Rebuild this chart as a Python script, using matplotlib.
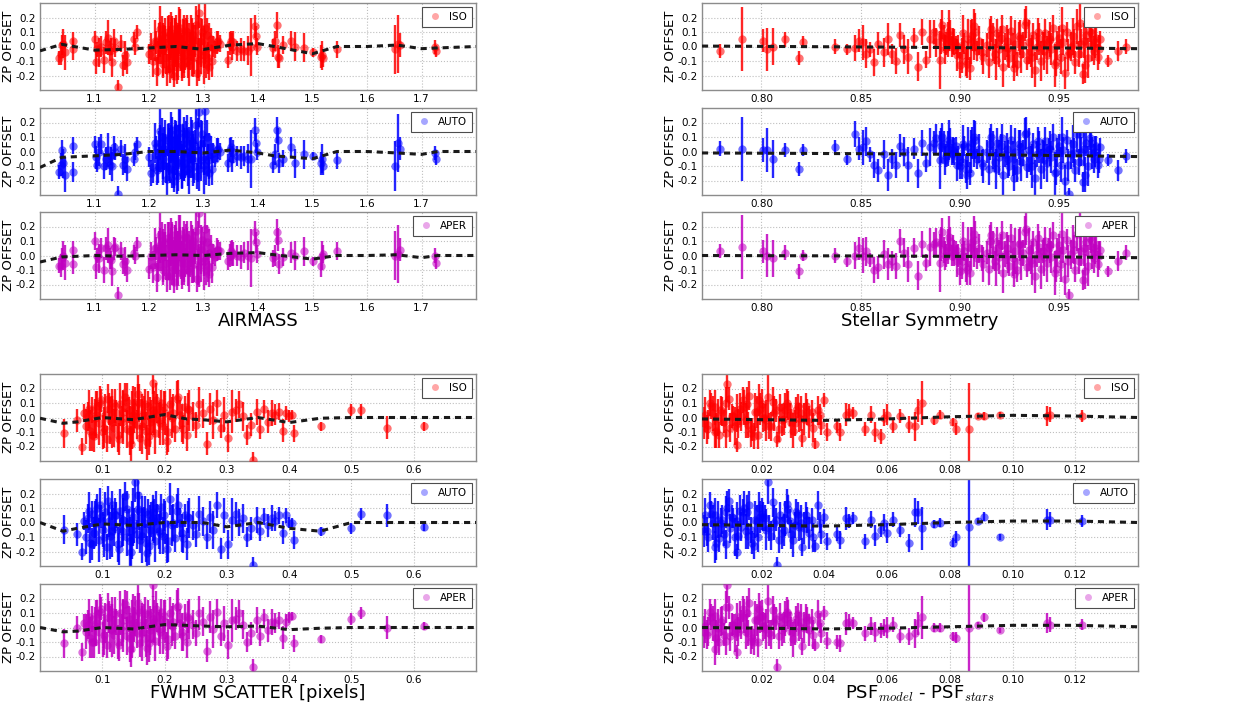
import matplotlib
matplotlib.use("Agg")
import matplotlib.pyplot as plt
from matplotlib.lines import Line2D
from matplotlib.ticker import FormatStrFormatter

plt.rcParams['font.family'] = ['DejaVu Sans']
plt.rcParams['mathtext.fontset'] = 'cm'

# ---------------- data: AIRMASS ----------------
AM_X = [1.035, 1.038, 1.040, 1.042, 1.045, 1.060, 1.061, 1.100, 1.103, 1.105,
        1.108, 1.112, 1.118, 1.122, 1.125, 1.128, 1.130, 1.132, 1.135, 1.138,
        1.143, 1.148, 1.152, 1.156, 1.160, 1.172, 1.175, 1.178, 1.200, 1.203,
        1.207, 1.212, 1.215, 1.218, 1.220, 1.222, 1.224, 1.226, 1.228, 1.230,
        1.232, 1.234, 1.236, 1.238, 1.240, 1.242, 1.244, 1.246, 1.248, 1.250,
        1.252, 1.254, 1.256, 1.258, 1.260, 1.262, 1.264, 1.266, 1.268, 1.270,
        1.272, 1.274, 1.276, 1.278, 1.280, 1.282, 1.285, 1.288, 1.290, 1.292,
        1.295, 1.297, 1.300, 1.302, 1.305, 1.308, 1.310, 1.313, 1.318, 1.322,
        1.326, 1.330, 1.345, 1.348, 1.350, 1.352, 1.355, 1.362, 1.368, 1.375,
        1.382, 1.388, 1.395, 1.397, 1.399, 1.428, 1.432, 1.435, 1.437, 1.439,
        1.446, 1.460, 1.468, 1.485, 1.500, 1.515, 1.517, 1.520, 1.545, 1.652,
        1.657, 1.661, 1.725, 1.727,
        1.211, 1.217, 1.221, 1.225, 1.229, 1.233, 1.237, 1.241, 1.245, 1.249,
        1.253, 1.257, 1.261, 1.265, 1.269, 1.273, 1.277, 1.281, 1.286, 1.291,
        1.296, 1.301, 1.306, 1.311, 1.316, 1.324, 1.243, 1.247, 1.251, 1.255]
AM_ISO = [-0.08, -0.05, 0.01, 0.02, -0.04, 0.04, -0.02, 0.05, -0.11, -0.02,
          -0.04, 0.00, -0.09, 0.03, 0.06, -0.03, 0.00, -0.11, 0.04, -0.01,
          -0.28, 0.02, -0.13, -0.06, -0.11, 0.05, 0.00, 0.10, -0.05, 0.00,
          -0.10, 0.03, -0.17, 0.02, 0.05, -0.03, 0.08, -0.12, 0.00, 0.06,
          -0.07, 0.10, -0.02, -0.15, 0.04, 0.12, -0.05, -0.20, 0.03, 0.07,
          -0.09, 0.01, 0.09, -0.04, -0.13, 0.05, 0.00, -0.06, 0.11, 0.02,
          -0.10, 0.06, -0.03, 0.00, 0.08, -0.07, 0.04, -0.18, 0.00, 0.23,
          -0.05, 0.10, -0.03, 0.13, -0.12, -0.08, -0.14, 0.05, 0.00, -0.02,
          0.04, 0.02, -0.09, 0.02, 0.04, 0.00, 0.03, -0.03, -0.02, -0.03,
          -0.03, 0.00, 0.14, 0.07, 0.00, -0.01, 0.04, 0.15, -0.07, -0.08,
          0.01, 0.04, 0.00, -0.01, -0.04, -0.07, -0.06, -0.08, -0.02, -0.02,
          0.02, 0.01, -0.005, -0.03,
          0.04, -0.08, 0.12, -0.02, 0.07, -0.16, 0.02, 0.09, -0.11, 0.05,
          -0.04, 0.13, -0.07, 0.00, 0.10, -0.13, 0.06, -0.03, 0.15, -0.09,
          0.03, -0.06, 0.08, 0.00, -0.10, 0.03, -0.01, 0.06, -0.14, 0.11]
AM_AUTO = [-0.14, -0.09, 0.01, -0.08, -0.16, 0.04, -0.14, 0.05, -0.04, -0.09,
           0.00, 0.05, -0.10, -0.05, 0.01, -0.09, -0.03, -0.10, 0.03, 0.00,
           -0.29, 0.02, -0.09, -0.05, -0.12, -0.05, 0.00, 0.05, -0.04, -0.15,
           -0.11, 0.03, -0.13, 0.00, 0.06, -0.05, 0.10, -0.09, 0.02, 0.04,
           -0.10, 0.08, 0.00, -0.12, 0.05, 0.15, -0.04, -0.20, 0.01, 0.09,
           -0.07, 0.03, 0.10, -0.06, -0.15, 0.05, -0.02, -0.08, 0.12, 0.00,
           -0.12, 0.07, -0.05, 0.02, 0.06, -0.10, 0.04, -0.17, 0.01, 0.27,
           -0.06, 0.12, -0.04, 0.28, -0.13, -0.06, -0.15, 0.03, -0.01, -0.05,
           0.02, 0.00, -0.08, 0.01, 0.03, -0.05, 0.00, -0.03, -0.04, -0.03,
           -0.05, -0.05, 0.15, 0.06, 0.00, -0.09, -0.02, 0.15, 0.08, -0.08,
           -0.05, 0.03, -0.08, -0.02, -0.03, -0.08, -0.05, -0.10, -0.06, -0.10,
           0.06, 0.02, -0.01, -0.05,
           0.06, -0.10, 0.14, -0.05, 0.09, -0.19, 0.00, 0.12, -0.13, 0.04,
           -0.08, 0.16, -0.10, 0.02, 0.13, -0.15, 0.08, -0.06, 0.18, -0.12,
           0.05, -0.09, 0.10, -0.03, -0.12, 0.01, -0.04, 0.08, -0.17, 0.13]
AM_APER = [-0.07, -0.07, -0.02, 0.00, -0.05, 0.04, -0.06, 0.10, -0.08, 0.00,
           -0.02, 0.05, -0.10, 0.05, 0.07, -0.02, -0.03, -0.11, 0.05, 0.06,
           -0.27, 0.03, -0.06, -0.04, -0.10, 0.02, 0.00, 0.08, -0.09, 0.00,
           -0.08, 0.05, -0.15, 0.03, 0.07, -0.02, 0.10, -0.10, 0.01, 0.08,
           -0.05, 0.12, -0.01, -0.14, 0.06, 0.14, -0.03, -0.18, 0.04, 0.09,
           -0.08, 0.02, 0.11, -0.03, -0.12, 0.06, 0.00, -0.05, 0.13, 0.03,
           -0.09, 0.07, -0.02, 0.01, 0.10, -0.06, 0.05, -0.16, 0.02, 0.29,
           -0.04, 0.11, -0.02, 0.18, -0.10, -0.07, -0.13, 0.06, 0.01, -0.01,
           0.04, 0.03, -0.04, 0.00, 0.03, 0.02, 0.01, 0.00, -0.01, 0.02,
           0.00, -0.02, 0.16, 0.09, 0.01, -0.02, 0.00, 0.16, 0.11, -0.06,
           -0.01, 0.02, 0.00, 0.03, -0.04, -0.07, 0.00, 0.01, 0.03, 0.00,
           0.01, 0.04, 0.00, -0.05,
           0.05, -0.06, 0.14, 0.00, 0.09, -0.14, 0.03, 0.11, -0.09, 0.07,
           -0.02, 0.15, -0.05, 0.02, 0.12, -0.11, 0.08, -0.01, 0.17, -0.07,
           0.04, -0.04, 0.09, 0.02, -0.08, 0.04, 0.01, 0.07, -0.12, 0.12]
AM_ERR = [0.05, 0.08, 0.07, 0.10, 0.12, 0.06, 0.07, 0.06, 0.08, 0.05,
          0.10, 0.07, 0.09, 0.08, 0.12, 0.07, 0.06, 0.10, 0.08, 0.06,
          0.05, 0.06, 0.07, 0.10, 0.08, 0.05, 0.06, 0.05, 0.07, 0.09,
          0.11, 0.08, 0.10, 0.14, 0.12, 0.09, 0.13, 0.10, 0.15, 0.08,
          0.12, 0.11, 0.16, 0.10, 0.13, 0.09, 0.14, 0.08, 0.17, 0.10,
          0.12, 0.15, 0.09, 0.13, 0.11, 0.14, 0.18, 0.10, 0.09, 0.16,
          0.12, 0.10, 0.13, 0.20, 0.08, 0.12, 0.11, 0.09, 0.22, 0.10,
          0.14, 0.09, 0.12, 0.25, 0.10, 0.11, 0.09, 0.08, 0.07, 0.06,
          0.07, 0.06, 0.06, 0.08, 0.07, 0.09, 0.08, 0.07, 0.08, 0.07,
          0.10, 0.20, 0.08, 0.07, 0.06, 0.06, 0.07, 0.09, 0.08, 0.07,
          0.06, 0.07, 0.10, 0.10, 0.03, 0.08, 0.10, 0.06, 0.06, 0.17,
          0.20, 0.08, 0.05, 0.04,
          0.14, 0.12, 0.16, 0.18, 0.13, 0.11, 0.20, 0.15, 0.12, 0.17,
          0.19, 0.13, 0.15, 0.22, 0.12, 0.14, 0.16, 0.18, 0.13, 0.15,
          0.17, 0.20, 0.12, 0.16, 0.11, 0.08, 0.21, 0.14, 0.12, 0.16]
AM_TX = [1.00, 1.04, 1.10, 1.15, 1.20, 1.25, 1.30, 1.35, 1.40, 1.43, 1.50,
         1.545, 1.60, 1.655, 1.70, 1.73, 1.80]
AM_T_ISO = [-0.03, 0.015, -0.025, -0.02, -0.01, 0.0, -0.02, 0.01, 0.02, 0.0,
            -0.05, 0.0, 0.0, 0.01, -0.015, -0.01, 0.0]
AM_T_AUTO = [-0.11, -0.04, -0.03, -0.02, 0.0, 0.0, -0.01, 0.01, -0.01, -0.03,
             -0.05, 0.0, 0.0, -0.01, -0.02, 0.0, 0.0]
AM_T_APER = [-0.045, -0.01, 0.0, -0.005, 0.0, 0.005, 0.0, 0.015, 0.02, 0.005,
             -0.025, 0.0, 0.0, 0.005, -0.015, 0.0, 0.0]

# ---------------- data: STELLAR SYMMETRY ----------------
SY_X = [0.779, 0.790, 0.801, 0.803, 0.806, 0.812, 0.819, 0.821, 0.837, 0.843,
        0.847, 0.849, 0.851, 0.853, 0.855, 0.857, 0.859, 0.862, 0.864, 0.866,
        0.868, 0.870, 0.872, 0.874, 0.877, 0.879, 0.881, 0.883, 0.885, 0.887,
        0.888, 0.890, 0.891, 0.892, 0.893, 0.894, 0.895, 0.896, 0.897, 0.898,
        0.899, 0.900, 0.901, 0.902, 0.903, 0.904, 0.905, 0.906, 0.907, 0.908,
        0.909, 0.910, 0.912, 0.914, 0.915, 0.916, 0.917, 0.918, 0.919, 0.920,
        0.921, 0.922, 0.923, 0.924, 0.925, 0.926, 0.927, 0.928, 0.929, 0.930,
        0.931, 0.932, 0.933, 0.934, 0.935, 0.936, 0.937, 0.938, 0.939, 0.940,
        0.941, 0.942, 0.943, 0.944, 0.945, 0.946, 0.947, 0.948, 0.949, 0.950,
        0.951, 0.952, 0.953, 0.954, 0.955, 0.956, 0.957, 0.958, 0.959, 0.960,
        0.961, 0.962, 0.963, 0.964, 0.965, 0.966, 0.967, 0.968, 0.969, 0.970,
        0.971, 0.975, 0.980, 0.984,
        0.8905, 0.8925, 0.8945, 0.8965, 0.8985, 0.9015, 0.9035, 0.9055, 0.9075, 0.9115,
        0.9155, 0.9185, 0.9215, 0.9245, 0.9275, 0.9305, 0.9335, 0.9365, 0.9395, 0.9425,
        0.9455, 0.9485, 0.9515, 0.9545, 0.9575, 0.9605, 0.9635, 0.9665, 0.9685, 0.9705]
SY_ISO = [-0.03, 0.05, 0.04, -0.02, 0.00, 0.05, -0.08, 0.03, 0.00, -0.02,
          -0.01, 0.04, 0.03, -0.05, -0.02, -0.11, 0.02, -0.04, 0.05, -0.05,
          -0.10, 0.08, -0.02, -0.07, 0.06, -0.14, 0.10, -0.09, 0.05, 0.10,
          0.03, -0.09, 0.15, 0.06, 0.02, 0.05, 0.08, 0.00, 0.03, 0.01,
          0.00, -0.13, -0.06, 0.02, -0.10, 0.05, -0.15, 0.08, 0.00, 0.10,
          -0.03, 0.04, -0.07, 0.01, -0.11, 0.12, 0.03, -0.05, 0.09, -0.02,
          0.06, -0.14, 0.00, 0.04, -0.08, 0.11, -0.03, 0.02, -0.12, 0.07,
          -0.05, 0.01, 0.15, -0.09, 0.03, -0.04, 0.08, -0.16, 0.00, 0.05,
          -0.10, 0.02, 0.09, -0.06, 0.04, -0.02, 0.13, -0.13, 0.01, 0.06,
          -0.07, 0.03, -0.18, 0.10, -0.04, 0.00, 0.07, -0.11, 0.14, -0.05,
          0.02, -0.19, 0.04, 0.08, -0.08, 0.11, 0.01, -0.03, 0.06, -0.07,
          0.05, -0.10, -0.03, 0.00,
          0.07, -0.02, 0.11, 0.04, -0.06, 0.09, -0.12, 0.03, 0.14, -0.04,
          0.08, -0.09, 0.12, -0.01, -0.15, 0.06, 0.17, -0.07, 0.10, -0.03,
          0.05, -0.11, 0.13, -0.06, 0.02, 0.16, -0.13, 0.09, 0.03, -0.02]
SY_AUTO = [0.02, 0.02, 0.01, 0.01, -0.05, 0.01, -0.12, 0.01, 0.03, -0.05,
           0.12, 0.02, 0.03, 0.07, -0.02, -0.09, -0.13, -0.02, -0.16, -0.05,
           -0.09, 0.04, 0.00, -0.09, 0.02, -0.15, 0.06, -0.08, 0.03, 0.06,
           0.09, -0.06, 0.10, 0.05, -0.03, 0.02, 0.06, -0.02, 0.00, 0.04,
           -0.04, -0.10, -0.07, 0.04, -0.12, 0.03, -0.15, 0.06, -0.02, 0.08,
           -0.05, 0.02, -0.10, 0.00, -0.12, 0.10, 0.01, -0.07, 0.06, -0.04,
           0.04, -0.16, -0.02, 0.02, -0.10, 0.08, -0.05, 0.00, -0.13, 0.05,
           -0.07, -0.01, 0.12, -0.11, 0.01, -0.06, 0.05, -0.18, -0.02, 0.03,
           -0.12, 0.00, 0.07, -0.08, 0.02, -0.04, 0.10, -0.15, -0.01, 0.04,
           -0.09, 0.01, -0.20, 0.08, -0.29, -0.02, 0.05, -0.13, 0.12, -0.07,
           0.00, -0.21, 0.02, 0.06, -0.10, 0.09, -0.01, -0.05, 0.04, -0.09,
           0.03, -0.06, -0.13, -0.03,
           0.04, -0.06, 0.08, 0.01, -0.09, 0.05, -0.16, 0.00, 0.10, -0.08,
           0.05, -0.12, 0.09, -0.05, -0.18, 0.03, 0.13, -0.10, 0.07, -0.06,
           0.02, -0.14, 0.10, -0.09, -0.01, 0.12, -0.16, 0.06, 0.00, -0.05]
SY_APER = [0.03, 0.06, 0.03, 0.00, -0.02, 0.02, -0.11, 0.00, 0.00, -0.04,
           0.00, 0.05, 0.00, 0.03, -0.03, -0.10, -0.08, 0.01, -0.06, -0.04,
           -0.07, 0.10, 0.02, -0.06, 0.05, -0.14, 0.08, -0.05, 0.06, 0.08,
           0.09, -0.05, 0.16, 0.04, 0.00, 0.06, 0.10, 0.00, 0.02, 0.04,
           0.00, -0.11, -0.04, 0.03, -0.08, 0.06, -0.12, 0.09, 0.01, 0.11,
           -0.02, 0.05, -0.06, 0.02, -0.09, 0.14, 0.04, -0.04, 0.10, -0.01,
           0.07, -0.12, 0.01, 0.05, -0.07, 0.12, -0.02, 0.03, -0.10, 0.08,
           -0.04, 0.02, 0.16, -0.08, 0.04, -0.03, 0.09, -0.14, 0.01, 0.06,
           -0.09, 0.03, 0.10, -0.05, 0.05, -0.01, 0.14, -0.12, 0.02, 0.07,
           -0.06, 0.04, -0.16, 0.11, -0.27, 0.01, 0.08, -0.10, 0.15, -0.04,
           0.03, -0.17, 0.05, 0.09, -0.07, 0.12, 0.02, -0.02, 0.07, -0.06,
           0.04, -0.11, -0.04, 0.02,
           0.08, 0.00, 0.13, 0.05, -0.04, 0.10, -0.10, 0.05, 0.15, -0.02,
           0.10, -0.07, 0.14, 0.01, -0.13, 0.08, 0.18, -0.05, 0.12, -0.01,
           0.07, -0.09, 0.15, -0.04, 0.04, 0.17, -0.11, 0.11, 0.05, 0.00]
SY_ERR = [0.05, 0.22, 0.08, 0.15, 0.13, 0.05, 0.05, 0.04, 0.05, 0.04,
          0.09, 0.08, 0.12, 0.10, 0.05, 0.09, 0.08, 0.10, 0.11, 0.07,
          0.09, 0.08, 0.10, 0.12, 0.07, 0.10, 0.09, 0.06, 0.13, 0.08,
          0.10, 0.20, 0.10, 0.09, 0.08, 0.12, 0.10, 0.07, 0.09, 0.06,
          0.08, 0.09, 0.12, 0.07, 0.10, 0.14, 0.08, 0.11, 0.09, 0.13,
          0.07, 0.10, 0.12, 0.08, 0.11, 0.09, 0.13, 0.07, 0.10, 0.12,
          0.08, 0.14, 0.09, 0.11, 0.07, 0.10, 0.12, 0.16, 0.08, 0.10,
          0.13, 0.09, 0.11, 0.07, 0.15, 0.10, 0.08, 0.12, 0.09, 0.11,
          0.14, 0.08, 0.10, 0.13, 0.07, 0.11, 0.09, 0.15, 0.10, 0.08,
          0.12, 0.09, 0.11, 0.07, 0.04, 0.10, 0.13, 0.08, 0.12, 0.09,
          0.10, 0.07, 0.12, 0.09, 0.14, 0.08, 0.11, 0.10, 0.07, 0.09,
          0.06, 0.04, 0.07, 0.05,
          0.12, 0.10, 0.14, 0.09, 0.11, 0.13, 0.10, 0.15, 0.12, 0.09,
          0.11, 0.14, 0.10, 0.13, 0.09, 0.12, 0.11, 0.15, 0.10, 0.13,
          0.12, 0.09, 0.14, 0.11, 0.10, 0.13, 0.12, 0.09, 0.11, 0.10]
SY_TX = [0.77, 0.85, 0.90, 0.95, 0.99]
SY_T_ISO = [0.003, -0.003, -0.008, -0.01, -0.015]
SY_T_AUTO = [-0.01, -0.015, -0.02, -0.028, -0.035]
SY_T_APER = [0.0, -0.003, -0.006, -0.01, -0.015]

# ---------------- data: FWHM SCATTER ----------------
FW_X = [0.038, 0.060, 0.068, 0.070, 0.074, 0.077, 0.080, 0.083, 0.086, 0.089,
        0.092, 0.095, 0.098, 0.101, 0.104, 0.107, 0.110, 0.113, 0.116, 0.119,
        0.122, 0.125, 0.128, 0.131, 0.134, 0.137, 0.140, 0.143, 0.146, 0.149,
        0.152, 0.155, 0.158, 0.161, 0.164, 0.167, 0.170, 0.173, 0.176, 0.179,
        0.182, 0.185, 0.188, 0.191, 0.194, 0.197, 0.200, 0.204, 0.208, 0.212,
        0.216, 0.220, 0.224, 0.228, 0.232, 0.236, 0.240, 0.245, 0.250, 0.256,
        0.262, 0.268, 0.273, 0.278, 0.284, 0.290, 0.296, 0.302, 0.308, 0.314,
        0.320, 0.326, 0.332, 0.338, 0.342, 0.348, 0.354, 0.360, 0.366, 0.372,
        0.378, 0.384, 0.390, 0.395, 0.400, 0.404, 0.408, 0.451, 0.499, 0.515,
        0.557, 0.617,
        0.078, 0.084, 0.090, 0.097, 0.103, 0.109, 0.115, 0.121, 0.127, 0.133,
        0.139, 0.145, 0.151, 0.157, 0.163, 0.169, 0.175, 0.181, 0.187, 0.193,
        0.199, 0.206, 0.214, 0.222, 0.230, 0.238, 0.147, 0.159, 0.171, 0.183]
FW_ISO = [-0.11, -0.02, -0.20, 0.03, -0.06, 0.01, -0.09, 0.05, -0.13, 0.00,
          0.08, -0.04, 0.12, -0.10, 0.02, -0.15, 0.06, -0.02, 0.10, -0.07,
          0.03, -0.12, 0.09, -0.03, 0.00, 0.14, -0.08, 0.05, -0.18, 0.02,
          0.07, -0.05, 0.11, -0.14, 0.01, 0.04, -0.09, 0.08, -0.03, 0.00,
          0.24, -0.11, 0.06, -0.02, 0.10, -0.06, 0.03, -0.16, 0.09, 0.00,
          -0.08, 0.13, 0.02, -0.04, 0.07, -0.12, 0.05, 0.01, -0.05, 0.09,
          0.03, -0.18, 0.06, -0.02, 0.10, -0.07, 0.02, -0.14, 0.04, 0.05,
          0.09, 0.01, -0.12, -0.05, -0.29, 0.04, -0.08, 0.06, -0.03, 0.03,
          0.02, 0.04, -0.09, 0.03, 0.01, 0.02, -0.11, -0.06, 0.05, 0.05,
          -0.07, -0.06,
          0.06, -0.12, 0.02, 0.10, -0.07, 0.13, -0.03, 0.08, -0.15, 0.04,
          0.11, -0.09, 0.01, 0.16, -0.06, 0.09, -0.13, 0.05, 0.12, -0.04,
          0.07, -0.10, 0.03, 0.14, -0.08, 0.06, -0.02, 0.10, -0.17, 0.03]
FW_AUTO = [-0.05, -0.08, -0.20, 0.01, -0.10, 0.03, -0.14, 0.06, -0.07, 0.02,
           0.10, -0.12, 0.04, -0.05, 0.07, -0.17, 0.01, -0.09, 0.12, -0.03,
           0.05, -0.15, 0.08, -0.06, 0.02, 0.18, -0.10, 0.00, -0.20, 0.04,
           0.28, -0.08, 0.09, -0.12, 0.03, 0.00, -0.14, 0.06, -0.05, 0.02,
           0.07, -0.13, 0.03, -0.06, 0.11, -0.09, 0.00, -0.18, 0.16, -0.02,
           -0.11, 0.08, 0.00, -0.07, 0.05, -0.15, 0.03, -0.02, -0.08, 0.06,
           0.01, -0.10, 0.04, -0.05, 0.12, -0.18, 0.05, -0.15, 0.02, 0.06,
           0.00, 0.03, -0.10, -0.04, -0.29, 0.02, -0.06, 0.04, -0.02, 0.03,
           0.01, 0.05, -0.07, 0.05, 0.00, 0.00, -0.12, -0.06, -0.04, 0.06,
           0.05, -0.03,
           0.08, -0.15, 0.00, 0.12, -0.10, 0.15, -0.06, 0.05, -0.18, 0.02,
           0.09, -0.13, -0.02, 0.19, -0.09, 0.07, -0.16, 0.03, 0.10, -0.07,
           0.05, -0.13, 0.00, 0.12, -0.11, 0.04, -0.05, 0.08, -0.21, 0.01]
FW_APER = [-0.11, 0.00, -0.17, 0.03, -0.03, 0.02, -0.07, 0.06, -0.10, 0.01,
           0.09, -0.03, 0.13, -0.08, 0.03, -0.12, 0.07, -0.01, 0.11, -0.05,
           0.04, -0.10, 0.10, -0.02, 0.01, 0.16, -0.06, 0.06, -0.15, 0.03,
           0.08, -0.04, 0.12, -0.11, 0.02, 0.05, -0.07, 0.09, -0.02, 0.01,
           0.29, -0.09, 0.07, -0.01, 0.11, -0.05, 0.04, -0.13, 0.10, 0.01,
           -0.06, 0.14, 0.03, -0.03, 0.08, -0.10, 0.06, 0.02, -0.04, 0.10,
           0.04, -0.16, 0.07, -0.01, 0.11, -0.06, 0.03, -0.12, 0.05, 0.06,
           0.10, 0.02, -0.10, -0.04, -0.27, 0.05, -0.06, 0.07, -0.02, 0.04,
           0.03, 0.05, -0.07, 0.04, 0.07, 0.08, -0.11, -0.08, 0.06, 0.10,
           0.00, 0.01,
           0.07, -0.10, 0.03, 0.11, -0.05, 0.14, -0.02, 0.09, -0.12, 0.05,
           0.12, -0.07, 0.02, 0.17, -0.04, 0.10, -0.11, 0.06, 0.13, -0.03,
           0.08, -0.08, 0.04, 0.15, -0.06, 0.07, -0.01, 0.11, -0.14, 0.04]
FW_ERR = [0.10, 0.08, 0.06, 0.06, 0.12, 0.10, 0.14, 0.09, 0.11, 0.13,
          0.10, 0.15, 0.08, 0.12, 0.14, 0.09, 0.11, 0.16, 0.10, 0.13,
          0.09, 0.12, 0.15, 0.11, 0.18, 0.10, 0.13, 0.09, 0.12, 0.20,
          0.14, 0.10, 0.12, 0.09, 0.15, 0.11, 0.13, 0.10, 0.17, 0.12,
          0.08, 0.14, 0.10, 0.12, 0.09, 0.13, 0.15, 0.10, 0.11, 0.14,
          0.09, 0.12, 0.10, 0.13, 0.08, 0.11, 0.14, 0.10, 0.09, 0.12,
          0.10, 0.08, 0.11, 0.13, 0.09, 0.07, 0.12, 0.10, 0.15, 0.08,
          0.09, 0.10, 0.07, 0.08, 0.05, 0.09, 0.07, 0.06, 0.08, 0.09,
          0.07, 0.06, 0.08, 0.05, 0.04, 0.03, 0.06, 0.03, 0.04, 0.04,
          0.08, 0.03,
          0.13, 0.11, 0.16, 0.12, 0.14, 0.10, 0.18, 0.12, 0.11, 0.15,
          0.13, 0.17, 0.12, 0.14, 0.19, 0.11, 0.13, 0.16, 0.12, 0.15,
          0.11, 0.14, 0.13, 0.12, 0.10, 0.11, 0.20, 0.13, 0.12, 0.15]
FW_TX = [0.0, 0.037, 0.06, 0.10, 0.15, 0.20, 0.235, 0.26, 0.30, 0.35, 0.40,
         0.45, 0.50, 0.70]
FW_T_ISO = [-0.005, -0.04, -0.03, 0.0, -0.015, 0.02, -0.01, -0.015, -0.03,
            0.0, -0.035, -0.005, 0.0, 0.0]
FW_T_AUTO = [0.0, -0.06, -0.04, -0.01, -0.02, 0.0, 0.0, 0.0, -0.03, 0.0,
             -0.04, -0.06, 0.0, 0.0]
FW_T_APER = [0.0, -0.03, -0.025, 0.0, -0.01, 0.02, 0.015, 0.01, 0.005, 0.01,
             -0.015, -0.005, 0.0, 0.0]

# ---------------- data: PSF model - PSF stars ----------------
PS_X = [0.002, 0.003, 0.004, 0.005, 0.006, 0.007, 0.008, 0.009, 0.010, 0.011,
        0.012, 0.013, 0.014, 0.015, 0.016, 0.017, 0.018, 0.019, 0.020, 0.021,
        0.022, 0.023, 0.024, 0.025, 0.026, 0.027, 0.028, 0.029, 0.030, 0.031,
        0.032, 0.033, 0.034, 0.035, 0.036, 0.037, 0.038, 0.039, 0.040, 0.041,
        0.0025, 0.0045, 0.0065, 0.0085, 0.0105, 0.0125, 0.0145, 0.0165, 0.0185, 0.0205,
        0.0225, 0.0245, 0.0265, 0.0285, 0.0305, 0.0325, 0.044, 0.045, 0.047, 0.048,
        0.049, 0.053, 0.055, 0.056, 0.058, 0.059, 0.060, 0.062, 0.064, 0.067,
        0.069, 0.070, 0.071, 0.075, 0.077, 0.081, 0.082, 0.086, 0.089, 0.091,
        0.096, 0.111, 0.112, 0.122,
        0.0015, 0.0035, 0.0055, 0.0075, 0.0095, 0.0115, 0.0135, 0.0155, 0.0175, 0.0195,
        0.0215, 0.0235, 0.0255, 0.0275, 0.0295, 0.0315, 0.0335, 0.0345, 0.0365, 0.0385,
        0.0052, 0.0088, 0.0122, 0.0158, 0.0192]
PS_ISO = [0.02, -0.05, 0.08, -0.10, 0.00, 0.05, -0.03, 0.23, -0.07, 0.01,
          -0.19, 0.06, 0.12, -0.02, 0.15, -0.08, 0.04, -0.12, 0.09, 0.00,
          0.14, -0.06, 0.03, -0.15, 0.07, -0.01, 0.10, 0.02, -0.09, 0.05,
          0.00, -0.14, 0.08, -0.03, 0.04, -0.18, 0.05, -0.05, 0.12, -0.10,
          -0.08, 0.03, -0.12, 0.10, 0.01, -0.04, 0.07, -0.11, 0.04, 0.00,
          -0.06, 0.05, -0.02, 0.08, -0.04, 0.03, -0.06, -0.10, 0.02, 0.04,
          0.03, -0.08, 0.02, -0.10, -0.13, 0.00, 0.02, -0.06, 0.01, -0.05,
          -0.06, 0.05, 0.10, -0.02, 0.02, -0.03, -0.08, -0.08, 0.01, 0.01,
          0.02, 0.01, 0.02, 0.01,
          -0.04, 0.10, -0.09, 0.04, 0.13, -0.06, 0.01, 0.09, -0.13, 0.06,
          -0.02, 0.11, -0.08, 0.05, -0.04, 0.08, -0.01, 0.04, -0.07, 0.02,
          0.07, -0.11, 0.03, -0.05, 0.12]
PS_AUTO = [0.05, -0.10, 0.06, -0.17, 0.02, 0.00, -0.08, 0.10, -0.04, 0.03,
           -0.20, 0.08, 0.07, -0.06, 0.12, -0.14, 0.02, -0.10, 0.06, 0.03,
           0.28, -0.09, 0.00, -0.29, 0.05, -0.05, 0.13, 0.01, -0.12, 0.07,
           -0.03, -0.17, 0.05, -0.07, 0.02, -0.16, 0.12, -0.08, 0.04, -0.13,
           -0.06, 0.00, -0.11, 0.07, 0.04, -0.09, 0.10, -0.05, 0.01, 0.04,
           -0.04, 0.02, -0.07, 0.09, -0.02, 0.00, -0.08, -0.12, 0.03, 0.01,
           0.03, -0.13, 0.02, -0.09, -0.05, 0.00, -0.07, 0.02, -0.05, -0.14,
           0.07, 0.07, -0.04, -0.01, 0.00, -0.14, -0.10, -0.03, 0.01, 0.04,
           -0.10, 0.02, 0.02, 0.01,
           -0.06, 0.12, -0.14, 0.02, 0.15, -0.10, -0.03, 0.07, -0.16, 0.04,
           -0.05, 0.14, -0.12, 0.03, -0.08, 0.06, -0.04, 0.02, -0.10, 0.00,
           0.05, -0.15, 0.01, -0.09, 0.10]
PS_APER = [0.01, -0.03, 0.07, -0.15, 0.00, 0.04, -0.05, 0.29, -0.06, 0.02,
           -0.17, 0.07, 0.13, -0.03, 0.17, -0.07, 0.05, -0.10, 0.08, 0.01,
           0.18, -0.05, 0.04, -0.27, 0.08, 0.00, 0.11, 0.03, -0.08, 0.06,
           0.01, -0.13, 0.07, -0.02, 0.05, -0.12, 0.09, -0.04, 0.10, -0.09,
           -0.05, 0.03, -0.10, 0.14, 0.02, -0.03, 0.08, -0.09, 0.05, 0.01,
           -0.04, 0.06, -0.02, 0.09, -0.03, 0.04, -0.10, -0.11, 0.03, 0.04,
           0.03, -0.04, 0.01, -0.03, -0.02, 0.00, 0.00, 0.02, -0.06, -0.06,
           -0.04, 0.03, 0.07, 0.00, 0.00, -0.06, -0.07, 0.00, 0.02, 0.07,
           -0.02, 0.03, 0.02, 0.02,
           -0.03, 0.11, -0.07, 0.05, 0.14, -0.04, 0.02, 0.10, -0.10, 0.07,
           -0.01, 0.12, -0.06, 0.06, -0.03, 0.09, 0.00, 0.05, -0.05, 0.03,
           0.08, -0.09, 0.04, -0.04, 0.13]
PS_ERR = [0.12, 0.10, 0.09, 0.11, 0.13, 0.10, 0.08, 0.12, 0.10, 0.07,
          0.05, 0.11, 0.09, 0.12, 0.10, 0.08, 0.13, 0.10, 0.11, 0.09,
          0.15, 0.10, 0.12, 0.05, 0.09, 0.11, 0.10, 0.08, 0.12, 0.09,
          0.10, 0.06, 0.09, 0.11, 0.08, 0.04, 0.10, 0.07, 0.05, 0.06,
          0.10, 0.12, 0.09, 0.11, 0.08, 0.10, 0.12, 0.09, 0.11, 0.10,
          0.09, 0.08, 0.11, 0.10, 0.09, 0.12, 0.05, 0.06, 0.08, 0.05,
          0.04, 0.05, 0.06, 0.07, 0.05, 0.06, 0.07, 0.05, 0.05, 0.06,
          0.10, 0.08, 0.15, 0.03, 0.03, 0.03, 0.04, 0.32, 0.02, 0.03,
          0.02, 0.07, 0.05, 0.04,
          0.11, 0.09, 0.12, 0.10, 0.08, 0.13, 0.10, 0.12, 0.09, 0.11,
          0.14, 0.10, 0.09, 0.12, 0.10, 0.08, 0.11, 0.09, 0.10, 0.07,
          0.12, 0.10, 0.13, 0.09, 0.11]
PS_TX = [0.001, 0.04, 0.06, 0.08, 0.10, 0.12, 0.14]
PS_T_ISO = [-0.01, -0.02, -0.01, 0.005, 0.015, 0.01, 0.0]
PS_T_AUTO = [-0.015, -0.025, -0.015, 0.0, 0.01, 0.01, 0.0]
PS_T_APER = [0.0, -0.01, -0.005, 0.005, 0.015, 0.015, 0.005]

ROW_NAMES = ['ISO', 'AUTO', 'APER']
ROW_COLORS = ['#ff0000', '#0000ff', '#c000c0']
Y_TICKS = [-0.2, -0.1, 0.0, 0.1, 0.2]

COLUMNS = [
    dict(x=AM_X, ys=[AM_ISO, AM_AUTO, AM_APER], err=AM_ERR,
         tx=AM_TX, tys=[AM_T_ISO, AM_T_AUTO, AM_T_APER],
         xlim=(1.0, 1.8), ticks=[1.1, 1.2, 1.3, 1.4, 1.5, 1.6, 1.7], fmt='%.1f',
         label='AIRMASS', left=40, block=0),
    dict(x=SY_X, ys=[SY_ISO, SY_AUTO, SY_APER], err=SY_ERR,
         tx=SY_TX, tys=[SY_T_ISO, SY_T_AUTO, SY_T_APER],
         xlim=(0.77, 0.99), ticks=[0.80, 0.85, 0.90, 0.95], fmt='%.2f',
         label='Stellar Symmetry', left=702, block=0),
    dict(x=FW_X, ys=[FW_ISO, FW_AUTO, FW_APER], err=FW_ERR,
         tx=FW_TX, tys=[FW_T_ISO, FW_T_AUTO, FW_T_APER],
         xlim=(0.0, 0.7), ticks=[0.1, 0.2, 0.3, 0.4, 0.5, 0.6], fmt='%.1f',
         label='FWHM SCATTER [pixels]', left=40, block=1),
    dict(x=PS_X, ys=[PS_ISO, PS_AUTO, PS_APER], err=PS_ERR,
         tx=PS_TX, tys=[PS_T_ISO, PS_T_AUTO, PS_T_APER],
         xlim=(0.001, 0.14), ticks=[0.02, 0.04, 0.06, 0.08, 0.10, 0.12], fmt='%.2f',
         label=r'PSF$_{model}$ - PSF$_{stars}$', left=702, block=1),
]

W, H = 1242, 709
fig = plt.figure(figsize=(W / 100, H / 100), dpi=100)
ROW_TOPS = [[3, 108, 212], [374, 479, 584]]
AX_H = 87
AX_W = 436

for col in COLUMNS:
    n = min(len(col['x']), len(col['err']), *[len(v) for v in col['ys']])
    for r in range(3):
        top = ROW_TOPS[col['block']][r]
        ax = fig.add_axes([col['left'] / W, 1 - (top + AX_H) / H, AX_W / W, AX_H / H])
        c = ROW_COLORS[r]
        xs = col['x'][:n]
        ys = col['ys'][r][:n]
        es = col['err'][:n]
        ax.errorbar(xs, ys, yerr=es, fmt='none', ecolor=c, elinewidth=1.7,
                    alpha=0.85, capsize=0, zorder=2)
        ax.plot(xs, ys, 'o', color=c, ms=6, mew=0, alpha=0.55, zorder=3)
        ax.plot(col['tx'], col['tys'][r], color='0.1', lw=2.2,
                dashes=(2.0, 1.6), zorder=5)
        ax.set_xlim(*col['xlim'])
        ax.set_ylim(-0.3, 0.3)
        ax.set_xticks(col['ticks'])
        ax.xaxis.set_major_formatter(FormatStrFormatter(col['fmt']))
        ax.set_yticks(Y_TICKS)
        ax.yaxis.set_major_formatter(FormatStrFormatter('%.1f'))
        ax.tick_params(length=0, labelsize=7.5, pad=3)
        ax.grid(True, color='0.75', linestyle=':', linewidth=0.8)
        ax.set_axisbelow(True)
        for s in ax.spines.values():
            s.set_color('0.55')
            s.set_linewidth(1.0)
        ax.set_ylabel('ZP OFFSET', fontsize=9.5)
        ax.yaxis.set_label_coords(-0.058, 0.5)
        handle = Line2D([], [], marker='o', color=c, ms=5, mew=0, alpha=0.35,
                        linestyle='none')
        leg = ax.legend([handle], [ROW_NAMES[r]], loc='upper right', fontsize=7.5,
                        numpoints=1, fancybox=False, framealpha=1,
                        edgecolor='0.3', borderpad=0.5, handletextpad=0.6,
                        borderaxespad=0.35, handlelength=1.5)
        leg.get_frame().set_linewidth(0.8)
        if r == 2:
            ax.set_xlabel(col['label'], fontsize=13)
            ax.xaxis.set_label_coords(0.5, -0.15)

fig.savefig('out.png', dpi=100)
